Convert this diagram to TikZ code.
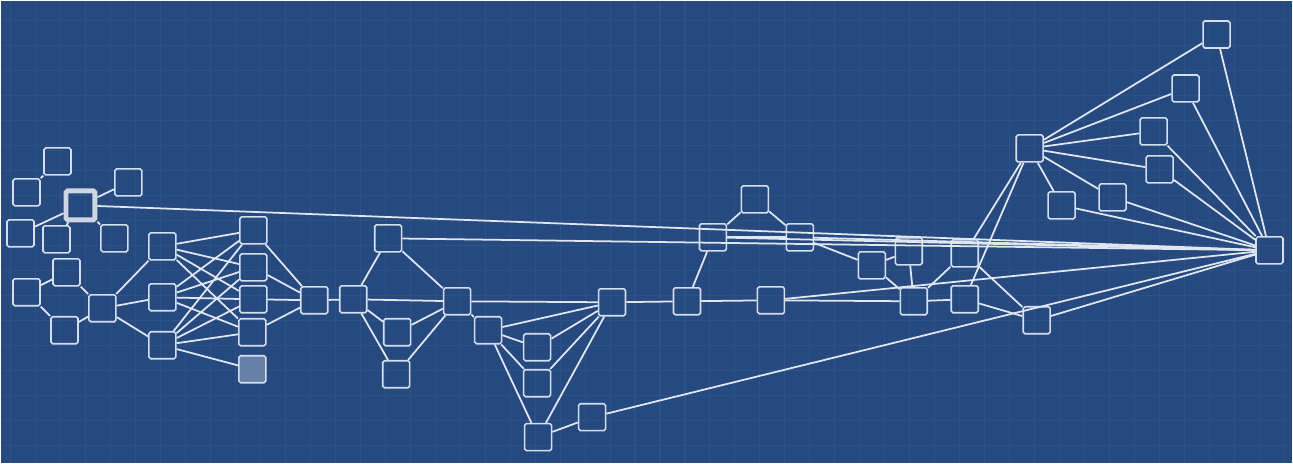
\documentclass[tikz,border=0pt]{standalone}
\usepackage{tikz}
\definecolor{bpblue}{RGB}{38,74,128}
\definecolor{bpgrid}{RGB}{45,82,136}
\definecolor{bpline}{RGB}{224,231,241}
\definecolor{bpbox}{RGB}{212,222,236}
\definecolor{bphub}{RGB}{206,214,226}
\definecolor{bpfill}{RGB}{104,128,168}
\tikzset{
  box/.style={draw=bpbox, line width=0.9pt, rounded corners=1pt, minimum size=0.54cm, inner sep=0pt},
  hubbox/.style={draw=bphub, line width=2.8pt, rounded corners=1pt, minimum size=0.58cm, inner sep=0pt},
  link/.style={draw=bpline, line width=1pt},
  gridline/.style={draw=bpgrid, line width=0.6pt}
}
\begin{document}
\begin{tikzpicture}[x=0.02cm, y=-0.02cm]
  %Background and grid
  \fill[bpblue] (0,0) rectangle (1293,463);
  \foreach \gx in {10,35,...,1290} \draw[gridline] (\gx,0) -- (\gx,463);
  \foreach \gy in {20,45,...,460} \draw[gridline] (0,\gy) -- (1293,\gy);

  %Upper left group
  \node[box] (a1) at (57,161) {};
  \node[box] (a2) at (26,192) {};
  \node[hubbox] (hub) at (80,205) {};
  \node[box] (a3) at (128,182) {};
  \node[box] (a4) at (20,233) {};
  \node[box] (a5) at (56,239) {};
  \node[box] (a6) at (114,238) {};

  %Lower left group
  \node[box] (b1) at (26,292) {};
  \node[box] (b2) at (66,272) {};
  \node[box] (b3) at (64,330) {};
  \node[box] (b4) at (102,308) {};
  \node[box] (c1) at (162,246) {};
  \node[box] (c2) at (162,297) {};
  \node[box] (c3) at (162,345) {};
  \node[box] (d1) at (253,230) {};
  \node[box] (d2) at (253,267) {};
  \node[box] (d3) at (253,299) {};
  \node[box] (d4) at (252,332) {};
  \node[box, fill=bpfill] (d5) at (252,369) {};
  \node[box] (e) at (314,300) {};

  %Middle
  \node[box] (f1) at (353,299) {};
  \node[box] (f2) at (388,238) {};
  \node[box] (f3) at (397,332) {};
  \node[box] (f4) at (396,374) {};
  \node[box] (g) at (457,301) {};
  \node[box] (i1) at (488,330) {};
  \node[box] (i2) at (537,347) {};
  \node[box] (i3) at (537,383) {};
  \node[box] (i4) at (538,437) {};
  \node[box] (i5) at (592,417) {};
  \node[box] (j) at (612,302) {};

  %Center right
  \node[box] (k0) at (755,199) {};
  \node[box] (k1) at (713,237) {};
  \node[box] (k3) at (800,237) {};
  \node[box] (k2) at (687,301) {};
  \node[box] (l1) at (771,300) {};
  \node[box] (m1) at (872,265) {};
  \node[box] (m2) at (909,251) {};
  \node[box] (m3) at (965,253) {};
  \node[box] (n1) at (914,301) {};
  \node[box] (n2) at (965,299) {};
  \node[box] (p) at (1037,320) {};

  %Right fan
  \node[box] (q) at (1030,148) {};
  \node[box] (s1) at (1217,34) {};
  \node[box] (s2) at (1186,88) {};
  \node[box] (s3) at (1154,131) {};
  \node[box] (s4) at (1160,169) {};
  \node[box] (s5) at (1113,197) {};
  \node[box] (s6) at (1062,205) {};
  \node[box] (r) at (1270,250) {};

  %Links upper left
  \draw[link] (a1) -- (a2);
  \draw[link] (a3) -- (hub);
  \draw[link] (a4) -- (hub);
  \draw[link] (a5) -- (hub);
  \draw[link] (a6) -- (hub);
  \draw[link] (hub) -- (r);

  %Links lower left
  \draw[link] (b1) -- (b2);
  \draw[link] (b1) -- (b3);
  \draw[link] (b2) -- (b4);
  \draw[link] (b3) -- (b4);
  \draw[link] (b4) -- (c1);
  \draw[link] (b4) -- (c2);
  \draw[link] (b4) -- (c3);
  \foreach \cc in {c1,c2,c3}
    \foreach \dd in {d1,d2,d3,d4}
      \draw[link] (\cc) -- (\dd);
  \draw[link] (c3) -- (d5);
  \draw[link] (d1) -- (e);
  \draw[link] (d2) -- (e);
  \draw[link] (d3) -- (e);
  \draw[link] (d4) -- (e);
  \draw[link] (e) -- (f1);

  %Links middle
  \draw[link] (f1) -- (f2);
  \draw[link] (f2) -- (g);
  \draw[link] (f1) -- (g);
  \draw[link] (f1) -- (f3);
  \draw[link] (f1) -- (f4);
  \draw[link] (f3) -- (g);
  \draw[link] (f4) -- (g);
  \draw[link] (f2) -- (r);
  \draw[link] (g) -- (i1);
  \draw[link] (g) -- (j);
  \draw[link] (i1) -- (j);
  \draw[link] (i1) -- (i2);
  \draw[link] (i1) -- (i3);
  \draw[link] (i1) -- (i4);
  \draw[link] (i2) -- (j);
  \draw[link] (i3) -- (j);
  \draw[link] (i4) -- (j);
  \draw[link] (i4) -- (i5);
  \draw[link] (i5) -- (r);

  %Links center right
  \draw[link] (j) -- (k2);
  \draw[link] (k2) -- (k1);
  \draw[link] (k1) -- (k0);
  \draw[link] (k0) -- (k3);
  \draw[link] (k1) -- (k3);
  \draw[link] (k1) -- (r);
  \draw[link] (k3) -- (r);
  \draw[link] (k2) -- (l1);
  \draw[link] (l1) -- (n1);
  \draw[link] (l1) -- (r);
  \draw[link] (k3) -- (m1);
  \draw[link] (m1) -- (m2);
  \draw[link] (m1) -- (n1);
  \draw[link] (m2) -- (n1);
  \draw[link] (n1) -- (m3);
  \draw[link] (n1) -- (n2);
  \draw[link] (m3) -- (p);
  \draw[link] (n2) -- (p);
  \draw[link] (m3) -- (q);
  \draw[link] (n2) -- (q);
  \draw[link] (p) -- (r);

  %Right fan
  \foreach \ss in {s1,s2,s3,s4,s5,s6}
    \draw[link] (q) -- (\ss) (\ss) -- (r);
\end{tikzpicture}
\end{document}
